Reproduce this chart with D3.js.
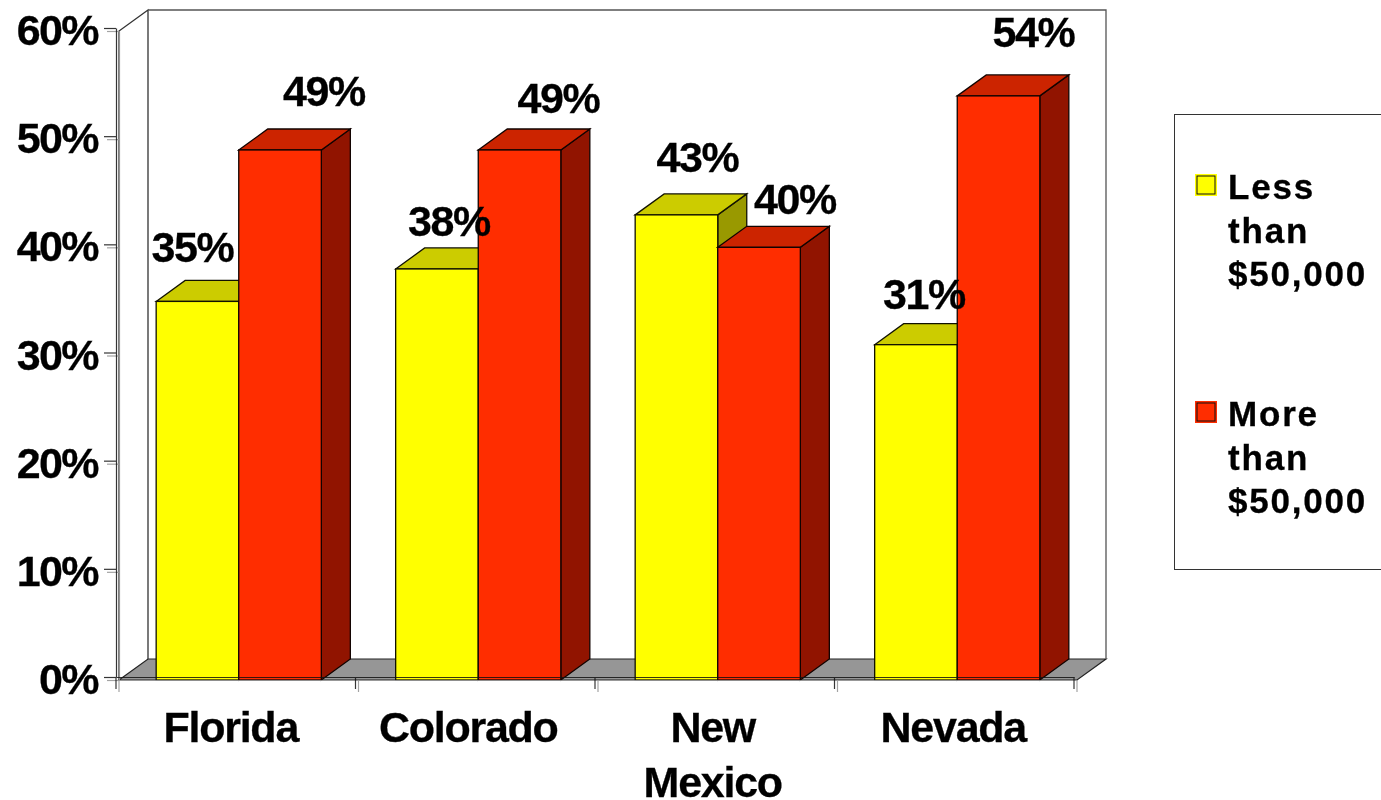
<!DOCTYPE html>
<html>
<head>
<meta charset="utf-8">
<script src="https://cdn.jsdelivr.net/npm/d3@7"></script>
<style>
  body { margin: 0; background: #fff; overflow: hidden; }
  text { font-family: "Liberation Sans", Arial, sans-serif; font-weight: bold; fill: #000; stroke: #000; stroke-width: 0.3; }
</style>
</head>
<body>
<div id="chart"></div>
<script>
// Data
var states = ["Florida", "Colorado", "New Mexico", "Nevada"];
var seriesNames = ["Less than $50,000", "More than $50,000"];
var lessThan = [35, 38, 43, 31];
var moreThan = [49, 49, 40, 54];
var yTicks = [0, 10, 20, 30, 40, 50, 60];

// Hand placed label nudges [dx, dy], the original labels do not sit centred
var lessNudge = [[-5, -39], [12, -33], [21, -43], [8, -36]];
var moreNudge = [[44, -44], [39, -37], [36, -33], [35, -49]];
var stateNudge = [-8, -10, -5, -4];

var svgWidth = 1381;
var svgHeight = 800;
var plot = { left: 119, right: 1077, top: 31, bottom: 680 };
var depth = { x: 29, y: -21 };

var svg = d3.select("#chart").append("svg")
    .attr("width", svgWidth)
    .attr("height", svgHeight);

var x0 = d3.scaleBand().domain(states).range([plot.left, plot.right]);
var x1 = d3.scaleBand().domain(seriesNames)
    .range([0, x0.bandwidth()])
    .paddingInner(0)
    .paddingOuter(0.45);
var y = d3.scaleLinear().domain([0, 60]).range([plot.bottom, plot.top]);

function poly(points) {
    return points.map(p => p.join(",")).join(" ");
}

// walls and floor
var backLeft = plot.left + depth.x;
var backRight = plot.right + depth.x;
var backTop = plot.top + depth.y;
var backBottom = plot.bottom + depth.y;

svg.append("polygon")
    .attr("points", poly([[plot.left, plot.bottom], [backLeft, backBottom], [backRight, backBottom], [plot.right, plot.bottom]]))
    .attr("fill", "#969696")
    .attr("stroke", "#222")
    .attr("stroke-width", 1.2);

svg.append("path")
    .attr("d", `M${plot.left},${plot.bottom}V${plot.top}L${backLeft},${backTop}V${backBottom}`)
    .attr("fill", "none")
    .attr("stroke", "#333")
    .attr("stroke-width", 1.3);

svg.append("path")
    .attr("d", `M${backLeft},${backTop}H${backRight}V${backBottom}`)
    .attr("fill", "none")
    .attr("stroke", "#555")
    .attr("stroke-width", 1.3);

// bars
var seriesColors = [
    { front: "#FFFF00", top: "#CCCC00", side: "#999900", edge: "#111100" },
    { front: "#FF2D00", top: "#CC2400", side: "#911400", edge: "#110300" }
];

function drawBar(group, left, value, c) {
    var right = left + x1.bandwidth();
    var top = y(value);
    group.append("polygon")
        .attr("points", poly([[right, plot.bottom], [right + depth.x, plot.bottom + depth.y], [right + depth.x, top + depth.y], [right, top]]))
        .attr("fill", c.side).attr("stroke", c.edge).attr("stroke-width", 1.3);
    group.append("polygon")
        .attr("points", poly([[left, top], [left + depth.x, top + depth.y], [right + depth.x, top + depth.y], [right, top]]))
        .attr("fill", c.top).attr("stroke", c.edge).attr("stroke-width", 1.3);
    group.append("rect")
        .attr("x", left).attr("y", top)
        .attr("width", x1.bandwidth())
        .attr("height", plot.bottom - top)
        .attr("fill", c.front).attr("stroke", c.edge).attr("stroke-width", 1.3);
}

var barsGroup = svg.append("g");
states.forEach(function(state, i) {
    var g = barsGroup.append("g");
    drawBar(g, x0(state) + x1(seriesNames[0]), lessThan[i], seriesColors[0]);
    drawBar(g, x0(state) + x1(seriesNames[1]), moreThan[i], seriesColors[1]);
});

// axes, the source image has a dark line and a paler ghost next to it
function drawAxes(dx, dy, color, opacity) {
    var g = svg.append("g")
        .attr("transform", `translate(${dx}, ${dy})`)
        .attr("opacity", opacity);
    g.append("g")
        .attr("transform", `translate(${plot.left}, 0)`)
        .call(d3.axisLeft(y).tickValues(yTicks).tickSize(12).tickSizeOuter(0).tickFormat(""));
    var bottom = g.append("g")
        .attr("transform", `translate(0, ${plot.bottom})`)
        .call(d3.axisBottom(x0).tickSize(0).tickFormat(""));
    bottom.selectAll(".tick").remove();
    bottom.selectAll(".grid-tick")
        .data(d3.range(states.length + 1))
        .enter()
        .append("line")
        .attr("x1", d => plot.left + d * x0.bandwidth())
        .attr("x2", d => plot.left + d * x0.bandwidth())
        .attr("y1", 0)
        .attr("y2", 12);
    g.selectAll("path, line").attr("stroke", color).attr("stroke-width", 1.2);
}
drawAxes(0, 0, "#999", 0.9);
drawAxes(-3, -3, "#111", 0.85);

// tick labels
svg.append("g").selectAll("text")
    .data(yTicks)
    .enter()
    .append("text")
    .attr("x", 98)
    .attr("y", d => y(d) + 14)
    .attr("text-anchor", "end")
    .attr("font-size", 43)
    .attr("letter-spacing", -1.6)
    .text(d => d + "%");

var stateLines = states.map(s => s.split(" "));
svg.append("g").selectAll("text")
    .data(states)
    .enter()
    .append("text")
    .attr("text-anchor", "middle")
    .attr("font-size", 43)
    .attr("letter-spacing", -1.25)
    .each(function(d, i) {
        var t = d3.select(this);
        stateLines[i].forEach(function(word, k) {
            t.append("tspan")
                .attr("x", x0(d) + x0.bandwidth() / 2 + stateNudge[i])
                .attr("y", 742 + k * 55)
                .text(word);
        });
    });

// value labels
function drawLabels(values, name, nudge) {
    svg.append("g").selectAll("text")
        .data(values)
        .enter()
        .append("text")
        .attr("x", (d, i) => x0(states[i]) + x1(name) + x1.bandwidth() / 2 + nudge[i][0])
        .attr("y", (d, i) => y(d) + nudge[i][1])
        .attr("text-anchor", "middle")
        .attr("font-size", 43)
        .attr("letter-spacing", -1.4)
        .text(d => d + "%");
}
drawLabels(lessThan, seriesNames[0], lessNudge);
drawLabels(moreThan, seriesNames[1], moreNudge);

// legend
svg.append("rect")
    .attr("x", 1174.5).attr("y", 114.5)
    .attr("width", 240).attr("height", 455)
    .attr("fill", "#fff").attr("stroke", "#333");

var legendLines = [["Less", "than", "$50,000"], ["More", "than", "$50,000"]];
var legendY = d3.scalePoint().domain(seriesNames).range([174, 401]);
seriesNames.forEach(function(name, i) {
    var top = legendY(name);
    svg.append("rect")
        .attr("x", 1195.5).attr("y", top + 0.5)
        .attr("width", 21).attr("height", 21)
        .attr("fill", seriesColors[i].front)
        .attr("stroke", seriesColors[i].front);
    svg.append("rect")
        .attr("x", 1197).attr("y", top + 2)
        .attr("width", 18).attr("height", 18)
        .attr("fill", seriesColors[i].front)
        .attr("stroke", "#111");
    legendLines[i].forEach(function(word, k) {
        svg.append("text")
            .attr("x", 1228)
            .attr("y", top + 25 + k * 43.5)
            .attr("font-size", 35)
            .attr("letter-spacing", 1.8)
            .text(word);
    });
});
</script>
</body>
</html>
